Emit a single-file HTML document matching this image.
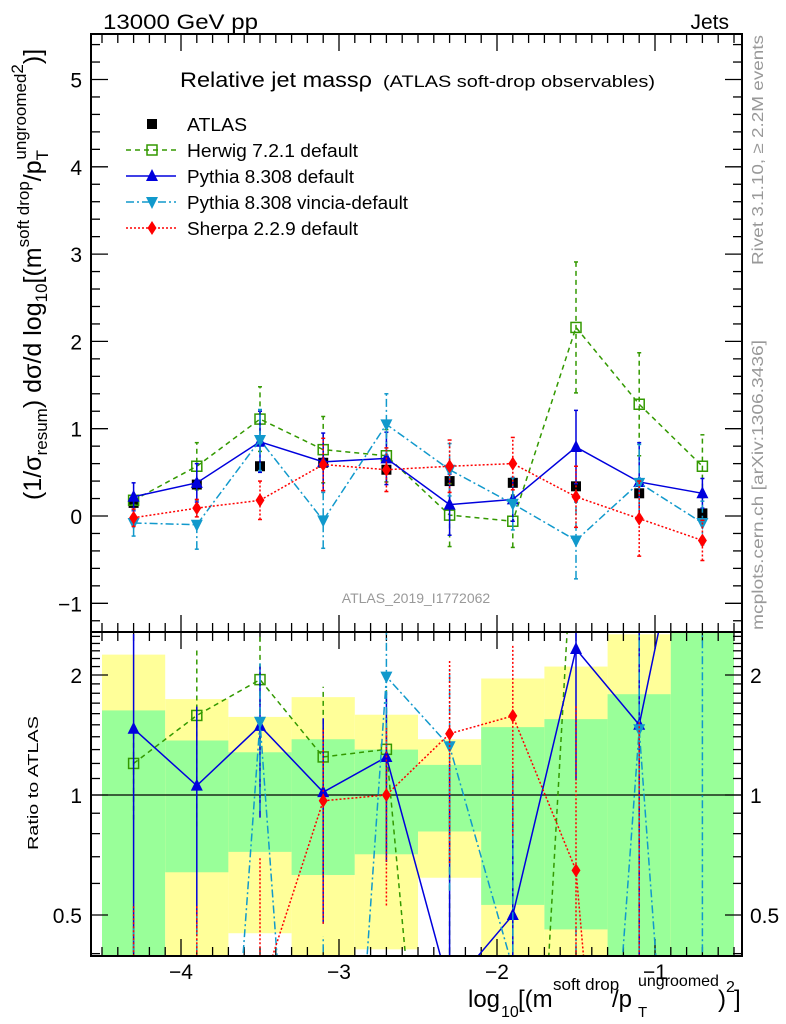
<!DOCTYPE html>
<html><head><meta charset="utf-8"><style>
body{margin:0;background:#fff;overflow:hidden}
svg{display:block;font-family:"Liberation Sans",sans-serif}
</style></head><body>
<svg id="chart" width="786" height="1024" viewBox="0 0 786 1024" xmlns="http://www.w3.org/2000/svg">
<defs>
<clipPath id="cm"><rect x="91" y="34" width="651" height="598"/></clipPath>
<clipPath id="cr"><rect x="91" y="633" width="651" height="323"/></clipPath>
</defs>
<g id="bands" clip-path="url(#cr)"></g>
<g id="ticks"></g>
<g id="series"></g>
<rect x="91" y="34" width="651" height="598" fill="none" stroke="#000" stroke-width="2"/>
<rect x="91" y="632" width="651" height="324" fill="none" stroke="#000" stroke-width="2"/>
<text x="103" y="29" font-size="21" textLength="155" lengthAdjust="spacingAndGlyphs">13000 GeV pp</text>
<text x="729" y="29" font-size="21" text-anchor="end">Jets</text>
<text x="180" y="87" font-size="21" textLength="192" lengthAdjust="spacingAndGlyphs">Relative jet massρ</text>
<text x="383" y="87" font-size="17" textLength="272" lengthAdjust="spacingAndGlyphs">(ATLAS soft-drop observables)</text>
<text x="416" y="603" font-size="14" fill="#999" text-anchor="middle">ATLAS_2019_I1772062</text>
<text transform="translate(763,265) rotate(-90)" font-size="16" fill="#999" textLength="230" lengthAdjust="spacingAndGlyphs">Rivet 3.1.10, ≥ 2.2M events</text>
<text transform="translate(763,630) rotate(-90)" font-size="16" fill="#999" textLength="290" lengthAdjust="spacingAndGlyphs">mcplots.cern.ch [arXiv:1306.3436]</text>
<text transform="translate(41,500) rotate(-90)" font-size="25">(1/σ<tspan font-size="17" dy="6">resum</tspan><tspan dy="-6">) dσ/d log</tspan><tspan font-size="17" dy="6">10</tspan><tspan dy="-6">[(m</tspan><tspan font-size="17" dy="-12">soft drop</tspan><tspan dy="12">/p</tspan><tspan font-size="17" dy="7">T</tspan><tspan font-size="17" dy="-22" dx="-9">ungroomed</tspan><tspan font-size="17" dy="-3">2</tspan><tspan dy="18">)]</tspan></text>
<text transform="translate(38,850) rotate(-90)" font-size="15" textLength="134" lengthAdjust="spacingAndGlyphs">Ratio to ATLAS</text>
<g font-size="24">
<text x="468" y="1007">log</text>
<text x="501" y="1017" font-size="16">10</text>
<text x="518" y="1007">[(m</text>
<text x="553" y="990" font-size="17">soft drop</text>
<text x="612" y="1007">/p</text>
<text x="638" y="1017" font-size="15">T</text>
<text x="638" y="986" font-size="16">ungroomed</text>
<text x="718" y="1007">)</text>
<text x="726" y="992" font-size="16">2</text>
<text x="734" y="1007">]</text>
</g>
<g id="legend"></g>
</svg>
<script>
const xCenters=[-4.3,-3.9,-3.5,-3.1,-2.7,-2.3,-1.9,-1.5,-1.1,-0.7];
const binEdges=[-4.5,-4.1,-3.7,-3.3,-2.9,-2.5,-2.1,-1.7,-1.3,-0.9,-0.5];
const atlasVals=[0.15,0.36,0.57,0.61,0.53,0.40,0.38,0.34,0.26,0.03];
const herwigVals=[0.18,0.57,1.11,0.76,0.69,0.01,-0.06,2.16,1.28,0.57];
const herwigErr=[0.05,0.27,0.37,0.38,0.30,0.36,0.30,0.75,0.59,0.36];
const pythiaVals=[0.22,0.38,0.85,0.62,0.66,0.13,0.19,0.79,0.39,0.26];
const pythiaErr=[0.16,0.22,0.35,0.33,0.30,0.35,0.25,0.42,0.45,0.17];
const vinciaVals=[-0.08,-0.10,0.87,-0.05,1.05,0.53,0.14,-0.28,0.38,-0.08];
const vinciaErr=[0.15,0.28,0.35,0.32,0.35,0.30,0.30,0.44,0.44,0.25];
const sherpaVals=[-0.02,0.09,0.18,0.59,0.53,0.57,0.60,0.22,-0.03,-0.28];
const sherpaErr=[0.10,0.10,0.22,0.30,0.25,0.30,0.30,0.35,0.43,0.23];
const greenLo=[0.1,0.64,0.72,0.63,0.71,0.81,0.53,0.46,0.1,0.1];
const greenHi=[1.63,1.37,1.28,1.38,1.30,1.19,1.48,1.55,1.79,3.0];
const yellowLo=[0.1,0.1,0.45,0.1,0.41,0.62,0.1,0.1,0.1,0.1];
const yellowHi=[2.25,1.74,1.57,1.76,1.59,1.38,1.96,2.10,2.53,3.0];
const mainTicks=[-1,0,1,2,3,4,5];
const ratioTicks=[0.5,1,2];
const xTicks=[-4,-3,-2,-1];

const NS="http://www.w3.org/2000/svg";
const X=v=>181+(v+4)*158;
const Y=v=>516-v*87.3;
const R=v=>795-398.6*Math.log10(Math.max(v,0.01));
function mk(tag,attrs,parent){const e=document.createElementNS(NS,tag);for(const k in attrs)e.setAttribute(k,attrs[k]);parent.appendChild(e);return e;}
const bands=document.getElementById('bands'),ticks=document.getElementById('ticks'),ser=document.getElementById('series'),leg=document.getElementById('legend');

for(let i=0;i<xCenters.length;i++){
  const x0=X(binEdges[i]),w=X(binEdges[i+1])-x0;
  const yb=mk('rect',{x:x0,y:R(yellowHi[i]),width:w,height:R(yellowLo[i])-R(yellowHi[i]),fill:'#ffff99'},bands);
  
  
  const gb=mk('rect',{x:x0,y:R(greenHi[i]),width:w,height:R(greenLo[i])-R(greenHi[i]),fill:'#99ff99'},bands);
  
  
}
mk('line',{x1:91,x2:742,y1:R(1),y2:R(1),stroke:'#000','stroke-width':1.3},ticks);

for(let v=-1.2;v<=5.41;v+=0.2){const y=Y(v);if(y<35||y>631)continue;const maj=Math.abs(v-Math.round(v))<0.01;const L=maj?17:9;
  mk('line',{x1:91,x2:91+L,y1:y,y2:y,stroke:'#000','stroke-width':1.3},ticks);mk('line',{x1:742,x2:742-L,y1:y,y2:y,stroke:'#000','stroke-width':1.3},ticks);}
mainTicks.forEach(v=>{const t=mk('text',{x:82,y:Y(v)+8,'font-size':21,'text-anchor':'end'},ticks);t.textContent=v<0?'−'+(-v):v;
  
  });
const rmin=[0.4,0.5,0.6,0.7,0.8,0.9,1,1.1,1.2,1.3,1.4,1.5,1.6,1.7,1.8,1.9,2,2.1,2.2,2.3,2.4,2.5];
rmin.forEach(v=>{const y=R(v);if(y<634||y>954)return;const maj=(v==0.5||v==1||v==2);const L=maj?17:9;
  mk('line',{x1:91,x2:91+L,y1:y,y2:y,stroke:'#000','stroke-width':1.3},ticks);mk('line',{x1:742,x2:742-L,y1:y,y2:y,stroke:'#000','stroke-width':1.3},ticks);});
ratioTicks.forEach(v=>{const t=mk('text',{x:82,y:R(v)+8,'font-size':21,'text-anchor':'end'},ticks);t.textContent=v;
  
  
  const t2=mk('text',{x:750,y:R(v)+8,'font-size':21},ticks);t2.textContent=v;
  
  });
for(let v=-4.5;v<=-0.45;v+=0.1){const x=X(v);if(x<92||x>741)continue;const maj=Math.abs(v-Math.round(v))<0.01;const L=maj?17:9;
  [[34,1],[632,-1],[632,1],[956,-1]].forEach(([y,d])=>mk('line',{x1:x,x2:x,y1:y,y2:y+d*L,stroke:'#000','stroke-width':1.3},ticks));}
xTicks.forEach(v=>{const t=mk('text',{x:X(v),y:979,'font-size':21,'text-anchor':'middle'},ticks);t.textContent='−'+(-v);
  
  });

function marker(g,type,x,y,col){
  if(type==='sq')return mk('rect',{x:x-5,y:y-5,width:10,height:10,fill:'#000'},g);
  if(type==='osq')return mk('rect',{x:x-5,y:y-5,width:10,height:10,fill:'none',stroke:col,'stroke-width':1.5},g);
  if(type==='tri')return mk('path',{d:`M${x},${y-7}L${x+6},${y+5}L${x-6},${y+5}Z`,fill:col},g);
  if(type==='itri')return mk('path',{d:`M${x},${y+7}L${x+6},${y-5}L${x-6},${y-5}Z`,fill:col},g);
  if(type==='dia')return mk('path',{d:`M${x},${y-7}L${x+4.5},${y}L${x},${y+7}L${x-4.5},${y}Z`,fill:col},g);
}
const series=[
 {name:'herwig',vals:herwigVals,err:herwigErr,col:'#339900',dash:'5,4',m:'osq',label:'Herwig 7.2.1 default',tl:171},
 {name:'pythia',vals:pythiaVals,err:pythiaErr,col:'#0000dd',dash:'',m:'tri',label:'Pythia 8.308 default',tl:167},
 {name:'vincia',vals:vinciaVals,err:vinciaErr,col:'#1199cc',dash:'8,3,2,3',m:'itri',label:'Pythia 8.308 vincia-default',tl:221},
 {name:'sherpa',vals:sherpaVals,err:sherpaErr,col:'#ff0000',dash:'2,2',m:'dia',label:'Sherpa 2.2.9 default',tl:171}
];
const ga=mk('g',{'clip-path':'url(#cm)'},ser);


series.forEach(s=>{
  const gm=mk('g',{'clip-path':'url(#cm)'},ser);
  
  
  const gr=mk('g',{'clip-path':'url(#cr)'},ser);
  
  
  const st={stroke:s.col,'stroke-width':1.5,fill:'none'};if(s.dash)st['stroke-dasharray']=s.dash;
  const pm=s.vals.map((v,i)=>X(xCenters[i])+','+Y(v)).join(' ');
  mk('polyline',Object.assign({points:pm},st),gm);
  const rat=s.vals.map((v,i)=>v/atlasVals[i]);
  const pr=rat.map((r,i)=>X(xCenters[i])+','+R(r)).join(' ');
  mk('polyline',Object.assign({points:pr},st),gr);
  s.vals.forEach((v,i)=>{
    const x=X(xCenters[i]);
    mk('line',Object.assign({x1:x,x2:x,y1:Y(v-s.err[i]),y2:Y(v+s.err[i])},st),gm);
    [v-s.err[i],v+s.err[i]].forEach(e=>mk('line',{x1:x-2,x2:x+2,y1:Y(e),y2:Y(e),stroke:s.col,'stroke-width':1.5},gm));
    const pt=marker(gm,s.m,x,Y(v),s.col);
    
    
    const r=rat[i],re=s.err[i]/Math.abs(atlasVals[i]);
    mk('line',Object.assign({x1:x,x2:x,y1:R(r-re),y2:R(r+re)},st),gr);
    if(r>0&&R(r)<990&&R(r)>610){const rp=marker(gr,s.m,x,R(r),s.col);
      
      }
  });
});
atlasVals.forEach((v,i)=>{const p=marker(ga,'sq',X(xCenters[i]),Y(v));
  
  });

const ly0=124,ldy=26;
const le0=mk('g',{},leg);


marker(le0,'sq',152,ly0);
mk('text',{x:187,y:ly0+7,'font-size':18,textLength:60,lengthAdjust:'spacingAndGlyphs'},le0).textContent='ATLAS';
series.forEach((s,k)=>{
  const y=ly0+ldy*(k+1);
  const g=mk('g',{},leg);
  
  
  const st={stroke:s.col,'stroke-width':1.5};if(s.dash)st['stroke-dasharray']=s.dash;
  mk('line',{x1:126,x2:176,y1:y,y2:y,...st},g);
  marker(g,s.m,152,y,s.col);
  mk('text',{x:187,y:y+7,'font-size':18,textLength:s.tl,lengthAdjust:'spacingAndGlyphs'},g).textContent=s.label;
});
</script>
</body></html>
